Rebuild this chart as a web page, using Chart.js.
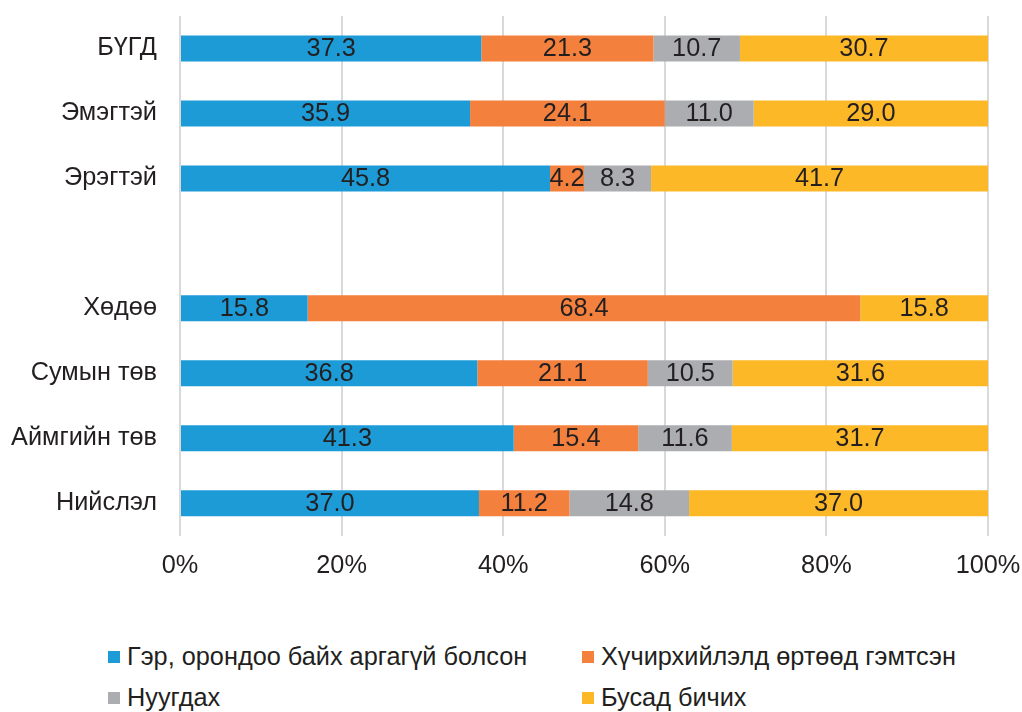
<!DOCTYPE html>
<html>
<head>
<meta charset="utf-8">
<script src="https://cdn.jsdelivr.net/npm/chart.js@4"></script>
<style>
    body { margin: 0; background: #fff; overflow: hidden; }
    #wrap { position: relative; width: 1022px; height: 600px; }
    #legend {
        position: relative;
        width: 1022px;
        height: 112px;
        font-family: "Liberation Sans", Arial, sans-serif;
        font-size: 25.3px;
        color: #231f20;
    }
    .item { position: absolute; display: flex; align-items: center; white-space: nowrap; }
    .item span.box { width: 12px; height: 12px; margin-right: 7px; display: inline-block; }
</style>
</head>
<body>
<div id="wrap"><canvas id="injury-reason-chart" width="1022" height="600"></canvas></div>
<div id="legend"></div>
<script>
// Categories (the empty one separates sex from location groups)
const categories = ['БҮГД', 'Эмэгтэй', 'Эрэгтэй', '', 'Хөдөө', 'Сумын төв', 'Аймгийн төв', 'Нийслэл'];

const seriesNames = [
    'Гэр, орондоо байх аргагүй болсон',
    'Хүчирхийлэлд өртөөд гэмтсэн',
    'Нуугдах',
    'Бусад бичих'
];

// Percent shares per category
const homeless = [37.3, 35.9, 45.8, null, 15.8, 36.8, 41.3, 37.0];
const injured  = [21.3, 24.1, 4.2, null, 68.4, 21.1, 15.4, 11.2];
const hiding   = [10.7, 11.0, 8.3, null, null, 10.5, 11.6, 14.8];
const other    = [30.7, 29.0, 41.7, null, 15.8, 31.6, 31.7, 37.0];

const xTicks = [0, 20, 40, 60, 80, 100];

const colors = ['#1c9bd7', '#f4803d', '#acadb1', '#fdb827'];
const fontFamily = '"Liberation Sans", Arial, sans-serif';
const fontSize = 25.3;
const textColor = '#231f20';

// value labels in the middle of each segment
const barValueLabels = {
    id: 'barValueLabels',
    afterDatasetsDraw(chart) {
        const ctx = chart.ctx;
        ctx.save();
        ctx.font = fontSize + 'px ' + fontFamily;
        ctx.fillStyle = textColor;
        ctx.textAlign = 'center';
        ctx.textBaseline = 'middle';
        chart.data.datasets.forEach((ds, i) => {
            const meta = chart.getDatasetMeta(i);
            meta.data.forEach((bar, j) => {
                const v = ds.data[j];
                if (v === null || v === undefined) return;
                const p = bar.getCenterPoint();
                ctx.fillText(v.toFixed(1), p.x, p.y + 1);
            });
        });
        ctx.restore();
    }
};

const allSeries = [homeless, injured, hiding, other];

const ctx = document.getElementById('injury-reason-chart').getContext('2d');
new Chart(ctx, {
    type: 'bar',
    data: {
        labels: categories,
        datasets: allSeries.map((data, i) => ({
            label: seriesNames[i],
            data: data,
            backgroundColor: colors[i],
            borderWidth: 0,
            barPercentage: 0.4,
            categoryPercentage: 1
        }))
    },
    options: {
        indexAxis: 'y',
        responsive: false,
        animation: false,
        layout: { padding: { top: 16, right: 34, bottom: 4, left: 0 } },
        plugins: {
            legend: { display: false },
            tooltip: { enabled: false }
        },
        scales: {
            x: {
                stacked: true,
                min: 0,
                max: 100,
                afterBuildTicks(scale) {
                    scale.ticks = xTicks.map(v => ({ value: v }));
                },
                afterFit(scale) {
                    scale.paddingLeft = 0;
                    scale.paddingRight = 0;
                },
                grid: { color: '#d9d9d9', lineWidth: 2, drawTicks: false },
                border: { display: false },
                ticks: {
                    padding: 15,
                    color: textColor,
                    font: { family: fontFamily, size: fontSize },
                    callback: v => v + '%'
                }
            },
            y: {
                stacked: true,
                grid: { display: false, drawTicks: false },
                border: { display: false },
                afterFit(scale) {
                    scale.width = 180;
                    scale.paddingTop = 0;
                    scale.paddingBottom = 0;
                },
                ticks: {
                    padding: 23,
                    color: textColor,
                    font: { family: fontFamily, size: fontSize }
                }
            }
        }
    },
    plugins: [barValueLabels]
});

// two-column legend under the chart
const legendPos = [[108, 42], [582, 42], [108, 83], [582, 83]];
const legendEl = document.getElementById('legend');
seriesNames.forEach((name, i) => {
    const item = document.createElement('div');
    item.className = 'item';
    item.style.left = legendPos[i][0] + 'px';
    item.style.top = legendPos[i][1] + 'px';
    item.innerHTML = '<span class="box" style="background:' + colors[i] + '"></span>' + name;
    legendEl.appendChild(item);
});
</script>
</body>
</html>
